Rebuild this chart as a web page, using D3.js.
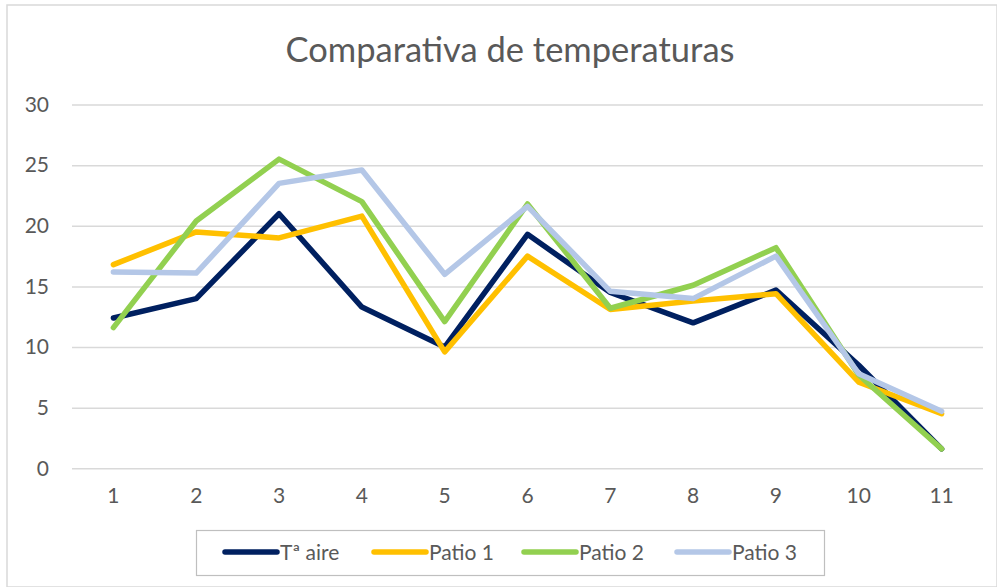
<!DOCTYPE html>
<html><head><meta charset="utf-8">
<script src="https://cdn.jsdelivr.net/npm/d3@7"></script>
<style>body{margin:0;background:#fff}svg{display:block}</style>
</head><body>
<script>
const categories = ["1","2","3","4","5","6","7","8","9","10","11"];
const tAire  = [12.4, 14.0, 21.0, 13.3, 10.0, 19.3, 14.5, 12.0, 14.7, 8.5, 1.6];
const patio1 = [16.8, 19.5, 19.0, 20.8, 9.6, 17.5, 13.1, 13.8, 14.4, 7.1, 4.5];
const patio2 = [11.6, 20.4, 25.5, 22.0, 12.1, 21.8, 13.2, 15.1, 18.2, 7.7, 1.6];
const patio3 = [16.2, 16.1, 23.5, 24.6, 16.0, 21.6, 14.6, 14.0, 17.5, 7.8, 4.7];
const yTicks = [0, 5, 10, 15, 20, 25, 30];
const seriesNames = ["Tª aire", "Patio 1", "Patio 2", "Patio 3"];
const seriesColors = ["#002060", "#FFC000", "#92D050", "#B4C7E7"];
const seriesData = [tAire, patio1, patio2, patio3];

const W = 997, H = 587;
const font = "Lato, 'Open Sans', sans-serif";
const svg = d3.select("body").append("svg").attr("width", W).attr("height", H);

svg.append("rect").attr("x", 7).attr("y", 5).attr("width", W - 7).attr("height", H - 5)
  .attr("fill", "#fff").attr("stroke", "#d9d9d9").attr("stroke-width", 1.5);

svg.append("text").attr("x", 510).attr("y", 62).attr("text-anchor", "middle")
  .attr("font-family", font).attr("font-size", 34.5).attr("fill", "#595959")
  .text("Comparativa de temperaturas");

const x = d3.scaleBand().domain(categories).range([72, 983]);
const y = d3.scaleLinear().domain([0, 30]).range([468.3, 104.6]);

const grid = svg.append("g").attr("transform", "translate(72,0)")
  .call(d3.axisLeft(y).tickValues(yTicks).tickSize(-(983 - 72)).tickFormat(""));
grid.select(".domain").remove();
grid.selectAll(".tick line").attr("stroke", "#d9d9d9").attr("stroke-width", 1.5);

const yAx = svg.append("g").attr("transform", "translate(52,0)")
  .call(d3.axisLeft(y).tickValues(yTicks).tickSize(0).tickPadding(3));
yAx.select(".domain").remove();
yAx.selectAll("text").attr("font-family", font).attr("font-size", 21).attr("fill", "#595959");

const xAx = svg.append("g").attr("transform", "translate(0,488)")
  .call(d3.axisBottom(x).tickSize(0).tickPadding(0));
xAx.select(".domain").remove();
xAx.selectAll("text").attr("font-family", font).attr("font-size", 21).attr("fill", "#595959").attr("dy", "0.71em");

const line = d3.line().x((d, i) => x(categories[i]) + x.bandwidth() / 2).y(d => y(d));
seriesData.forEach((s, k) => {
  svg.append("path").datum(s).attr("d", line).attr("fill", "none")
    .attr("stroke", seriesColors[k]).attr("stroke-width", 5.5)
    .attr("stroke-linejoin", "round").attr("stroke-linecap", "round");
});

// legend
svg.append("rect").attr("x", 196.5).attr("y", 530.5).attr("width", 628).attr("height", 45)
  .attr("fill", "#fff").attr("stroke", "#bfbfbf").attr("stroke-width", 1.2);
const legX = [225, 374, 524, 677];
seriesNames.forEach((n, k) => {
  const g = svg.append("g").attr("transform", `translate(${legX[k]},552)`);
  g.append("line").attr("x1", 0).attr("x2", 52).attr("y1", 0).attr("y2", 0)
    .attr("stroke", seriesColors[k]).attr("stroke-width", 5.5).attr("stroke-linecap", "round");
  g.append("text").attr("x", 55).attr("y", 0).attr("dy", "0.36em")
    .attr("font-family", font).attr("font-size", 21).attr("fill", "#595959").text(n);
});
</script>
</body></html>
